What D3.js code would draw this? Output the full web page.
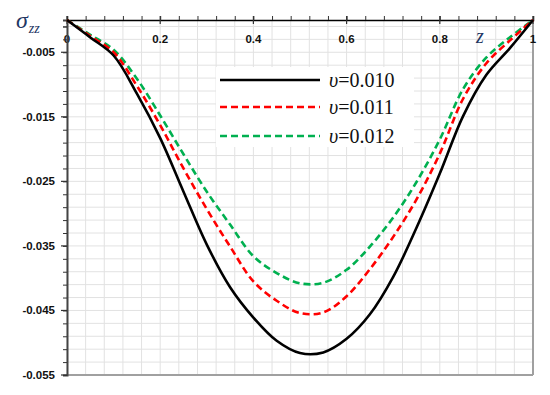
<!DOCTYPE html>
<html lang="en">
<head>
	<meta charset="UTF-8">
	<title>sigma_zz</title>
	<style>
		body { margin: 0; background: #fff; }
	</style>
</head>
<body>
	<script src="https://d3js.org/d3.v7.min.js"></script>
	<script type="text/javascript">
		var width = 550;
		var height = 395;

		// data
		var zValues = [0, 0.05, 0.1, 0.15, 0.2, 0.25, 0.3, 0.35, 0.4, 0.45, 0.5, 0.55, 0.6, 0.65, 0.7, 0.75, 0.8, 0.85, 0.9, 0.95, 1];
		var nu010 = [0, -0.0027, -0.0055, -0.0114, -0.0183, -0.0266, -0.0348, -0.0414, -0.0461, -0.0497, -0.0516, -0.0515, -0.0494, -0.0456, -0.0398, -0.0322, -0.0238, -0.0149, -0.0085, -0.0044, 0];
		var nu011 = [0, -0.0025, -0.0050, -0.0102, -0.0163, -0.0230, -0.0293, -0.0351, -0.0405, -0.0435, -0.0454, -0.0453, -0.0428, -0.0386, -0.0336, -0.0278, -0.0207, -0.0122, -0.0067, -0.0032, 0];
		var nu012 = [0, -0.0023, -0.0046, -0.0091, -0.0148, -0.0208, -0.0266, -0.0317, -0.0366, -0.0392, -0.0408, -0.0407, -0.0387, -0.0351, -0.0306, -0.0251, -0.0185, -0.0107, -0.0058, -0.0027, 0];
		var seriesNames = ["0.010", "0.011", "0.012"];
		var xTickLabels = [0, 0.2, 0.4, 0.6, 0.8, 1];
		var yTickLabels = [-0.005, -0.015, -0.025, -0.035, -0.045, -0.055];

		var series = [
			{name: seriesNames[0], values: nu010, color: "#000000", dash: null},
			{name: seriesNames[1], values: nu011, color: "#ff0000", dash: "7,4"},
			{name: seriesNames[2], values: nu012, color: "#00b050", dash: "7,4"}
		];

		var padding = {left: 67, right: 17, top: 20, bottom: 20};
		var svg = d3.select("body").append("svg").attr("width", width).attr("height", height);

		var XScale = d3.scaleLinear().domain([0, 1]).range([padding.left, width - padding.right]);
		var YScale = d3.scaleLinear().domain([-0.055, 0]).range([height - padding.bottom, padding.top]);

		// grid
		var vGrid = d3.range(0, 1.0001, 0.04);
		var hGrid = d3.range(-0.055, 0, 0.002);
		svg.append("g").selectAll("line").data(vGrid).enter().append("line")
			.attr("x1", function(d){ return XScale(d); })
			.attr("x2", function(d){ return XScale(d); })
			.attr("y1", YScale(0)).attr("y2", YScale(-0.055))
			.attr("stroke", "#e2e2e2").attr("stroke-width", 1);
		svg.append("g").selectAll("line").data(hGrid).enter().append("line")
			.attr("x1", XScale(0)).attr("x2", XScale(1))
			.attr("y1", function(d){ return YScale(d); })
			.attr("y2", function(d){ return YScale(d); })
			.attr("stroke", "#e2e2e2").attr("stroke-width", 1);

		// right and bottom frame
		svg.append("line").attr("x1", XScale(1)).attr("x2", XScale(1))
			.attr("y1", YScale(0)).attr("y2", YScale(-0.055))
			.attr("stroke", "#a0a0a0").attr("stroke-width", 2);
		svg.append("line").attr("x1", XScale(0)).attr("x2", XScale(1))
			.attr("y1", YScale(-0.055)).attr("y2", YScale(-0.055))
			.attr("stroke", "#a0a0a0").attr("stroke-width", 2);

		// legend background
		svg.append("rect").attr("x", 216).attr("y", 67).attr("width", 198).attr("height", 80).attr("fill", "#fff");

		// top x axis (minor ticks up, labels under the line)
		var XAxis = d3.axisTop(XScale).tickValues(vGrid).tickSize(4).tickFormat("");
		var gx = svg.append("g").attr("transform", "translate(0," + YScale(0) + ")").call(XAxis);
		gx.select(".domain").attr("stroke", "#000").attr("stroke-width", 1.5);
		gx.selectAll(".tick line").attr("stroke", "#333");
		svg.append("g").selectAll("line").data(xTickLabels).enter().append("line")
			.attr("x1", function(d){ return XScale(d); }).attr("x2", function(d){ return XScale(d); })
			.attr("y1", YScale(0) - 4).attr("y2", YScale(0) + 4)
			.attr("stroke", "#333").attr("stroke-width", 1.2);
		svg.append("g").selectAll("text").data(xTickLabels).enter().append("text")
			.attr("x", function(d){ return XScale(d); })
			.attr("y", YScale(0) + 23)
			.attr("text-anchor", "middle")
			.attr("font-family", "Liberation Sans, Arial, sans-serif")
			.attr("font-size", 11.5).attr("font-weight", "bold").attr("fill", "#111")
			.text(function(d){ return d; });

		// left y axis
		var YAxis = d3.axisLeft(YScale).tickValues(hGrid.concat([-0.001])).tickSize(4).tickFormat("");
		var gy = svg.append("g").attr("transform", "translate(" + XScale(0) + ",0)").call(YAxis);
		gy.select(".domain").attr("stroke", "#444").attr("stroke-width", 2);
		gy.selectAll(".tick line").attr("stroke", "#333");
		svg.append("g").selectAll("line").data(yTickLabels).enter().append("line")
			.attr("x1", XScale(0) - 6).attr("x2", XScale(0))
			.attr("y1", function(d){ return YScale(d); }).attr("y2", function(d){ return YScale(d); })
			.attr("stroke", "#333").attr("stroke-width", 1.2);
		svg.append("g").selectAll("text").data(yTickLabels).enter().append("text")
			.attr("x", XScale(0) - 12)
			.attr("y", function(d){ return YScale(d) + 4; })
			.attr("text-anchor", "end")
			.attr("font-family", "Liberation Sans, Arial, sans-serif")
			.attr("font-size", 11.5).attr("font-weight", "bold").attr("fill", "#111")
			.text(function(d){ return d3.format(".3f")(d).replace("−", "-"); });

		// curves
		var line = d3.line()
			.x(function(d, i){ return XScale(zValues[i]); })
			.y(function(d){ return YScale(d); })
			.curve(d3.curveCatmullRom.alpha(0.5));
		svg.append("g").selectAll("path").data(series.slice().reverse()).enter().append("path")
			.attr("d", function(d){ return line(d.values); })
			.attr("fill", "none")
			.attr("stroke", function(d){ return d.color; })
			.attr("stroke-width", 2.6)
			.attr("stroke-dasharray", function(d){ return d.dash; });

		// legend
		var legendY = [80, 107, 136];
		var lg = svg.append("g").selectAll("g").data(series).enter().append("g");
		lg.append("line")
			.attr("x1", 220).attr("x2", 320)
			.attr("y1", function(d, i){ return legendY[i]; })
			.attr("y2", function(d, i){ return legendY[i]; })
			.attr("stroke", function(d){ return d.color; })
			.attr("stroke-width", 2.6)
			.attr("stroke-dasharray", function(d){ return d.dash; });
		var lt = lg.append("text")
			.attr("x", 329)
			.attr("y", function(d, i){ return legendY[i] + 7; })
			.attr("font-family", "Liberation Serif, Times New Roman, serif")
			.attr("font-size", 20).attr("fill", "#111");
		lt.append("tspan").attr("font-style", "italic").text("υ");
		lt.append("tspan").text(function(d){ return "=" + d.name; });

		// axis titles
		var st = svg.append("text").attr("x", 16).attr("y", 28)
			.attr("font-family", "Liberation Serif, Times New Roman, serif")
			.attr("font-style", "italic").attr("fill", "#1f3864");
		st.append("tspan").attr("font-size", 24).text("σ");
		st.append("tspan").attr("font-size", 14).attr("dy", 5).attr("dx", 1).text("zz");

		svg.append("text").attr("x", 476).attr("y", 43)
			.attr("font-family", "Liberation Serif, Times New Roman, serif")
			.attr("font-style", "italic").attr("font-size", 20).attr("fill", "#1f3864")
			.text("z");
	</script>
</body>
</html>
